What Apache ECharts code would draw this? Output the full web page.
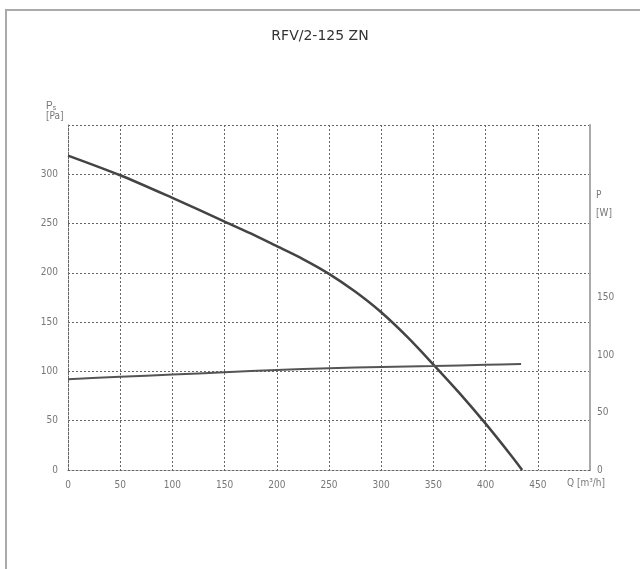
<!DOCTYPE html>
<html>
<head>
<meta charset="utf-8">
<script src="https://cdn.jsdelivr.net/npm/echarts@6/dist/echarts.min.js"></script>
<style>
  html, body { margin: 0; padding: 0; background: #fff; }
  #chart { width: 640px; height: 569px; }
</style>
</head>
<body>
<div id="chart"></div>
<script>
// Q [m3/h] vs static pressure [Pa]
var flowPs = [0, 50, 100, 150, 175, 200, 225, 250, 275, 300, 325, 350, 375, 400, 425, 435];
var pressure = [319, 299, 276, 252, 240, 227, 214, 199, 181, 160, 135, 107, 78, 47, 14, 0];
// Q [m3/h] vs power [W] (right axis)
var flowP = [0, 50, 100, 150, 200, 250, 300, 350, 400, 434];
var power = [79, 81, 83, 85, 87, 88.5, 89.6, 90.4, 91.5, 92.2];

function pairs(xs, ys) {
    var res = [];
    for (var i = 0; i < xs.length; i++) {
        res.push([xs[i], ys[i]]);
    }
    return res;
}

var labelFont = 'DejaVu Sans Condensed';
var gridLine = { color: '#666', width: 1, type: [2, 2] };

var myChart = echarts.init(document.getElementById('chart'));
myChart.setOption({
    animation: false,
    backgroundColor: '#fff',
    title: {
        text: 'RFV/2-125 ZN',
        left: 'center',
        top: 24,
        textStyle: { color: '#333', fontSize: 14, fontWeight: 'normal', fontFamily: 'DejaVu Sans' }
    },
    grid: { left: 68, right: 50, top: 125, bottom: 99 },
    xAxis: {
        type: 'value',
        min: 0,
        max: 500,
        interval: 50,
        axisLine: { show: true, lineStyle: gridLine },
        axisTick: { show: false },
        splitLine: { show: true, lineStyle: gridLine },
        axisLabel: {
            color: '#777', fontSize: 10, fontFamily: labelFont, margin: 10,
            showMaxLabel: false,
            formatter: function (v) { return v >= 500 ? '' : v; }
        }
    },
    yAxis: [
        {
            type: 'value',
            min: 0,
            max: 350,
            interval: 50,
            axisLine: { show: true, lineStyle: gridLine },
            axisTick: { show: false },
            splitLine: { show: true, lineStyle: gridLine },
            axisLabel: {
                color: '#777', fontSize: 10, fontFamily: labelFont, margin: 10,
                formatter: function (v) { return v >= 350 ? '' : v; }
            }
        },
        {
            type: 'value',
            min: 0,
            max: 300,
            interval: 50,
            position: 'right',
            axisLine: { show: true, lineStyle: { color: '#aaa', width: 2 } },
            axisTick: { show: false },
            splitLine: { show: false },
            axisLabel: {
                color: '#777', fontSize: 10, fontFamily: labelFont, margin: 7,
                formatter: function (v) { return v > 150 ? '' : v; }
            }
        }
    ],
    graphic: [
        {
            type: 'rect',
            shape: { x: 6, y: 10, width: 700, height: 700 },
            style: { fill: 'none', stroke: '#aaa', lineWidth: 2 },
            silent: true
        },
        {
            type: 'text', left: 46, top: 101,
            style: {
                text: '{p|P}{s|s}\n[Pa]',
                fill: '#777', font: '10px "DejaVu Sans Condensed"', align: 'center',
                rich: { p: { fontSize: 10, fill: '#777' }, s: { fontSize: 7, fill: '#777', verticalAlign: 'bottom', padding: [4, 0, 0, 0] } }
            }
        },
        {
            type: 'text', left: 596, top: 186,
            style: { text: 'P\n[W]', fill: '#777', font: '10px "DejaVu Sans Condensed"', lineHeight: 18 }
        },
        {
            type: 'text', left: 567, top: 478,
            style: { text: 'Q [m³/h]', fill: '#777', font: '10px "DejaVu Sans Condensed"' }
        }
    ],
    series: [
        {
            name: 'Ps',
            type: 'line',
            yAxisIndex: 0,
            data: pairs(flowPs, pressure),
            smooth: 0.3,
            symbol: 'none',
            lineStyle: { color: '#444', width: 2.5 }
        },
        {
            name: 'P',
            type: 'line',
            yAxisIndex: 1,
            data: pairs(flowP, power),
            smooth: 0.3,
            symbol: 'none',
            lineStyle: { color: '#555', width: 2 }
        }
    ]
});
</script>
</body>
</html>
